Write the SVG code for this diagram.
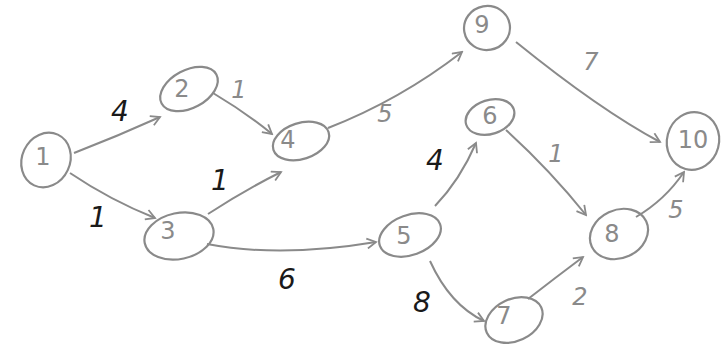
<svg xmlns="http://www.w3.org/2000/svg" width="726" height="347" viewBox="0 0 726 347">
<defs>
<marker id="ah" viewBox="0 0 12 12" refX="10" refY="6" markerWidth="12" markerHeight="12" markerUnits="userSpaceOnUse" orient="auto">
<path d="M1,1 L10,6 L1,11" fill="none" stroke="#8a8a8a" stroke-width="1.8"/>
</marker>
<style>
.n ellipse{fill:none;stroke:#8a8a8a;stroke-width:2.2}
.n text{font-family:"DejaVu Sans",sans-serif;font-size:24px;fill:#8a8a8a;text-anchor:middle;dominant-baseline:central}
.e path{fill:none;stroke:#8a8a8a;stroke-width:2;marker-end:url(#ah)}
.w{font-family:"DejaVu Sans",sans-serif;font-size:28px;text-anchor:middle;dominant-baseline:central;font-style:italic}
.d{fill:#1a1a1a}
.g{fill:#8a8a8a;font-size:24px}
</style>
</defs>
<rect width="726" height="347" fill="#fff"/>
<g id="edges" class="e">
<path d="M74,153 Q118,136 160,117"/>
<path d="M70,173 Q110,200 155,218"/>
<path d="M213,93 Q245,112 272,134"/>
<path d="M208,214 Q245,190 281,172"/>
<path d="M207,244 Q280,258 376,242"/>
<path d="M328,128 Q400,100 462,52"/>
<path d="M516,42 Q600,110 660,142"/>
<path d="M435,206 Q460,180 476,143"/>
<path d="M506,130 Q550,170 586,215"/>
<path d="M430,261 Q450,305 484,321"/>
<path d="M528,299 Q555,278 583,257"/>
<path d="M636,217 Q665,200 684,172"/>
</g>
<g id="n1" class="n"><ellipse cx="46" cy="160" rx="24" ry="28" transform="rotate(25 46 160)"/><text x="43" y="157">1</text></g>
<g id="n2" class="n"><ellipse cx="189" cy="89" rx="31" ry="19" transform="rotate(-28 189 89)"/><text x="182" y="89">2</text></g>
<g id="n3" class="n"><ellipse cx="179" cy="236" rx="35" ry="23" transform="rotate(-12 179 236)"/><text x="168" y="231">3</text></g>
<g id="n4" class="n"><ellipse cx="301" cy="141" rx="29" ry="18" transform="rotate(-18 301 141)"/><text x="288" y="140">4</text></g>
<g id="n5" class="n"><ellipse cx="410" cy="235" rx="32" ry="20" transform="rotate(-20 410 235)"/><text x="404" y="236">5</text></g>
<g id="n6" class="n"><ellipse cx="490" cy="117" rx="25" ry="17" transform="rotate(-18 490 117)"/><text x="490" y="116">6</text></g>
<g id="n7" class="n"><ellipse cx="514" cy="320" rx="30" ry="21" transform="rotate(-25 514 320)"/><text x="504" y="316">7</text></g>
<g id="n8" class="n"><ellipse cx="619" cy="234" rx="30" ry="24" transform="rotate(-25 619 234)"/><text x="612" y="234">8</text></g>
<g id="n9" class="n"><ellipse cx="487" cy="28" rx="23" ry="22" transform="rotate(-10 487 28)"/><text x="482" y="25">9</text></g>
<g id="n10" class="n"><ellipse cx="693" cy="141" rx="26" ry="29" transform="rotate(15 693 141)"/><text x="693" y="140">10</text></g>
<g id="weights">
<text class="w d" x="120" y="111">4</text>
<text class="w d" x="98" y="217">1</text>
<text class="w g" x="239" y="90">1</text>
<text class="w d" x="220" y="180">1</text>
<text class="w d" x="287" y="279">6</text>
<text class="w g" x="385" y="114">5</text>
<text class="w g" x="591" y="62">7</text>
<text class="w d" x="435" y="160">4</text>
<text class="w g" x="556" y="154">1</text>
<text class="w d" x="422" y="302">8</text>
<text class="w g" x="580" y="297">2</text>
<text class="w g" x="676" y="210">5</text>
</g>
</svg>
